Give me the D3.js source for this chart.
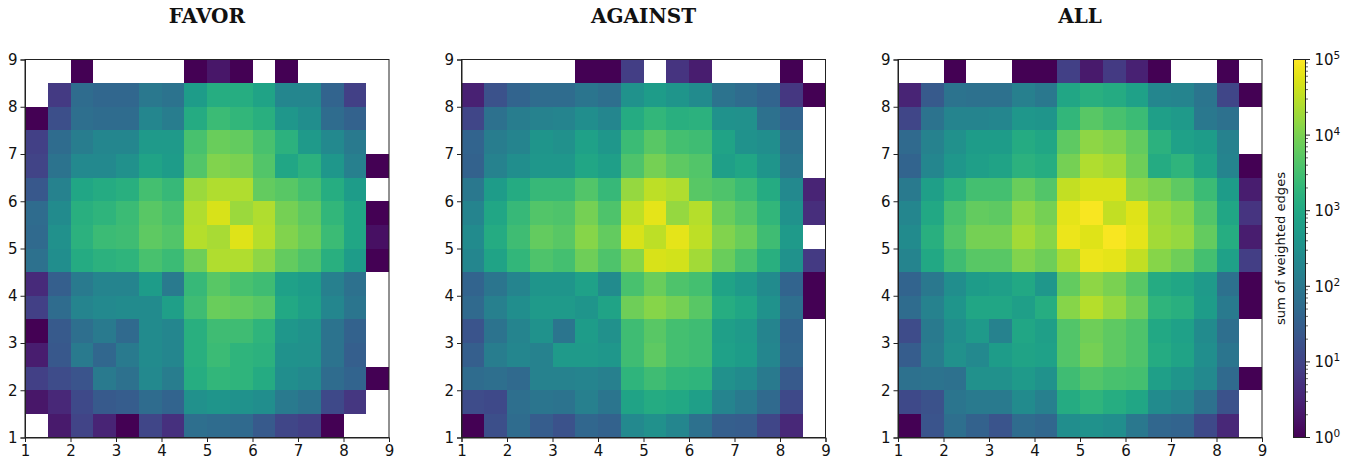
<!DOCTYPE html>
<html lang="en">
<head>
<meta charset="UTF-8">
<title>Sum of weighted edges: FAVOR, AGAINST, ALL</title>
<script src="https://d3js.org/d3.v7.min.js"></script>
<style>
    html, body { margin: 0; padding: 0; background: #fff; }
    svg { display: block; }
    text { font-family: "DejaVu Sans", sans-serif; fill: #111; }
    .title { font-family: "DejaVu Serif", serif; font-weight: bold; font-size: 20px; }
    .tick text { font-size: 15px; }
    .tick line, .domain { stroke: #222; stroke-width: 1px; }
</style>
</head>
<body>
<div id="viz"></div>
<script>
    const _ = null;

    // bin edges on both axes, half a unit wide
    const binStarts = [1, 1.5, 2, 2.5, 3, 3.5, 4, 4.5, 5, 5.5, 6, 6.5, 7, 7.5, 8, 8.5];
    const tickLabels = [1, 2, 3, 4, 5, 6, 7, 8, 9];
    const panelTitles = ["FAVOR", "AGAINST", "ALL"];
    const colorTicks = [0, 1, 2, 3, 4, 5];

    // log10 of the sum of weighted edges. First row is the top one (y 8.5-9)
    const favorRows = [
        [_, _, 0, _, _, _, _, 0, .3, 0, _, 0, _, _, _, _],
        [_, .85, 1.75, 1.65, 1.65, 2, 1.9, 2.75, 3.1, 3.1, 2.9, 2.3, 2.3, 1.6, .95, _],
        [0, 1.2, 1.8, 1.75, 1.75, 2.3, 2.1, 3.05, 3.4, 3.3, 3.15, 2.65, 2.45, 1.75, 1.55, _],
        [.95, 1.75, 2.1, 2.3, 2.3, 2.7, 2.7, 3.55, 3.85, 3.8, 3.55, 3.2, 2.7, 2.35, 2.05, _],
        [1, 1.9, 2.35, 2.35, 2.5, 2.9, 2.75, 3.65, 4.05, 4, 3.65, 2.95, 3.2, 2.65, 2.15, 0],
        [1.35, 2.2, 2.95, 3.05, 3.15, 3.5, 3.35, 4.25, 4.4, 4.4, 3.8, 3.7, 3.5, 3.1, 2.75, _],
        [1.75, 2.4, 3.15, 3.25, 3.4, 3.7, 3.55, 4.4, 4.7, 4.25, 4.4, 3.95, 3.75, 3.3, 2.95, 0],
        [1.7, 2.5, 3.2, 3.4, 3.45, 3.75, 3.65, 4.45, 4.35, 4.75, 4.45, 4.05, 3.85, 3.4, 2.95, .2],
        [1.85, 2.45, 3.05, 3.2, 3.25, 3.55, 3.4, 3.9, 4.4, 4.4, 4.15, 3.8, 3.6, 3.15, 2.75, 0],
        [.6, 1.5, 2.05, 2.25, 2.25, 2.75, 2.05, 3.35, 3.7, 3.55, 3.45, 2.85, 2.75, 2.15, 1.85, _],
        [.95, 1.75, 2.25, 2.35, 2.4, 2.4, 2.8, 3.45, 3.85, 3.8, 3.7, 3, 2.8, 2.3, 1.95, _],
        [0, 1.4, 1.8, 2.05, 1.7, 2.4, 2.3, 3.15, 3.45, 3.45, 3.25, 2.65, 2.55, 1.9, 1.55, _],
        [.4, 1.35, 2.05, 1.65, 2.05, 2.4, 2.3, 3.15, 3.4, 3.25, 3.2, 2.55, 2.5, 1.9, 1.5, _],
        [.95, 1.15, 1.3, 2.05, 1.85, 2.35, 2.1, 3.1, 3.3, 3.25, 3.05, 2.45, 2.35, 1.75, 1.6, 0],
        [.3, .55, 1.1, 1.4, 1.45, 1.75, 1.6, 2.5, 2.6, 2.55, 2.45, 2.05, 1.9, 1.1, .8, _],
        [_, .35, 1, .5, 0, 1.05, .7, 1.8, 1.75, 1.7, 1.4, 1.05, .95, 0, _, _]
    ];
    const againstRows = [
        [_, _, _, _, _, 0, 0, .9, _, .75, .4, _, _, _, 0, _],
        [.45, 1.25, 1.6, 1.75, 1.75, 1.95, 1.8, 2.55, 2.75, 2.6, 2.4, 1.9, 1.75, 1.6, .8, 0],
        [1.05, 1.85, 2.1, 2.2, 2.25, 2.45, 2.3, 3.05, 3.3, 3.15, 3.2, 2.55, 2.5, 1.85, 1.6, _],
        [1.6, 2.1, 2.25, 2.6, 2.5, 2.85, 2.65, 3.4, 3.7, 3.5, 3.45, 2.9, 2.55, 2.45, 1.85, _],
        [1.55, 2.2, 2.45, 2.65, 2.65, 2.95, 2.8, 3.6, 3.95, 3.75, 3.65, 2.8, 2.95, 2.6, 2, _],
        [2, 2.75, 3.05, 3.35, 3.35, 3.65, 3.35, 4.2, 4.5, 4.4, 3.7, 3.6, 3.4, 3.05, 2.35, .5],
        [2.25, 2.95, 3.35, 3.65, 3.6, 3.95, 3.6, 4.5, 4.8, 4.2, 4.45, 3.85, 3.65, 3.3, 2.55, .65],
        [2.4, 3.05, 3.45, 3.8, 3.7, 4.1, 3.8, 4.7, 4.5, 4.8, 4.5, 4.05, 3.85, 3.45, 2.7, _],
        [2.3, 2.9, 3.3, 3.6, 3.5, 3.9, 3.6, 4.1, 4.7, 4.65, 4.3, 3.85, 3.55, 3.15, 2.55, .85],
        [1.6, 1.95, 2.25, 2.6, 2.6, 2.85, 2.4, 3.55, 3.85, 3.6, 3.5, 2.9, 2.7, 2.4, 1.6, 0],
        [1.7, 2.15, 2.45, 2.7, 2.7, 2.6, 2.9, 3.9, 4.1, 3.95, 3.7, 3.1, 2.95, 2.55, 1.8, 0],
        [1.3, 1.9, 2.25, 2.55, 1.95, 2.75, 2.5, 3.45, 3.7, 3.5, 3.45, 2.8, 2.7, 2.25, 1.6, _],
        [1.5, 2.1, 2.3, 2.2, 2.7, 2.7, 2.65, 3.45, 3.75, 3.5, 3.45, 2.85, 2.75, 2.3, 1.65, _],
        [1.75, 1.8, 1.7, 2.2, 2.2, 2.25, 2.15, 3.25, 3.45, 3.3, 3.25, 2.5, 2.4, 2.05, 1.4, _],
        [1.15, 1.1, 1.8, 1.95, 1.9, 2.15, 1.95, 2.9, 3.05, 3, 2.8, 2.25, 2.05, 1.7, 1.1, _],
        [0, 1.2, 1.75, 1.45, 1.25, 1.65, 1.55, 2.35, 2.5, 2.3, 1.85, 1.5, 1.45, 1.05, .55, _]
    ];
    const allRows = [
        [_, _, 0, _, _, 0, 0, .95, .35, .85, .45, 0, _, _, 0, _],
        [.5, 1.4, 1.9, 1.85, 1.85, 2.15, 2, 2.95, 3.15, 3.05, 2.85, 2.3, 2.25, 1.95, 1.05, 0],
        [1.05, 1.9, 2.25, 2.25, 2.3, 2.65, 2.6, 3.3, 3.7, 3.55, 3.4, 2.8, 2.7, 2, 1.85, _],
        [1.7, 2.2, 2.5, 2.75, 2.75, 3.05, 2.95, 3.75, 4.15, 4.05, 3.8, 3.2, 2.85, 2.75, 2.2, _],
        [1.6, 2.3, 2.65, 2.8, 2.9, 3.2, 3.1, 3.95, 4.4, 4.3, 3.9, 3.05, 3.25, 2.9, 2.25, 0],
        [2.05, 2.8, 3.2, 3.5, 3.5, 3.85, 3.65, 4.55, 4.7, 4.7, 4.15, 4, 3.75, 3.4, 2.75, .4],
        [2.3, 3, 3.55, 3.8, 3.75, 4.15, 3.95, 4.8, 4.95, 4.55, 4.75, 4.25, 4.1, 3.65, 2.95, .75],
        [2.4, 3.15, 3.65, 3.95, 3.95, 4.3, 4.1, 4.85, 4.75, 4.95, 4.8, 4.3, 4.2, 3.8, 3.1, .4],
        [2.25, 3, 3.45, 3.7, 3.7, 4.05, 3.9, 4.35, 4.85, 4.8, 4.55, 4.1, 3.9, 3.5, 2.85, .9],
        [1.6, 2, 2.45, 2.75, 2.8, 3, 2.65, 3.8, 4.15, 4, 3.7, 3.05, 2.95, 2.7, 1.85, 0],
        [1.75, 2.2, 2.6, 2.95, 2.95, 2.8, 3.1, 4.1, 4.45, 4.2, 3.9, 3.25, 3.15, 2.75, 2.05, 0],
        [1.15, 2.05, 2.45, 2.7, 2.2, 2.95, 2.8, 3.65, 3.9, 3.75, 3.6, 3, 2.85, 2.4, 1.8, _],
        [1.45, 2.1, 2.5, 2.35, 2.75, 2.9, 2.85, 3.65, 3.95, 3.75, 3.6, 3.05, 2.9, 2.45, 1.95, _],
        [1.85, 1.9, 1.85, 2.5, 2.5, 2.7, 2.55, 3.45, 3.65, 3.55, 3.5, 2.8, 2.6, 2.35, 1.7, 0],
        [1.1, 1.25, 1.95, 2.05, 2.05, 2.4, 2.15, 3.05, 3.25, 3.1, 2.95, 2.4, 2.25, 1.85, 1.25, _],
        [0, 1.3, 1.8, 1.55, 1.3, 1.75, 1.65, 2.45, 2.55, 2.45, 2, 1.65, 1.6, 1.1, .55, _]
    ];

    const width = 1368, height = 462;
    const plotTop = 59.5, plotBottom = 437.5;
    const panelLefts = [25, 461.5, 898];
    const panelWidth = 364;
    const binSize = 0.5;

    const svg = d3.select("#viz").append("svg")
        .attr("width", width)
        .attr("height", height);

    const y = d3.scaleLinear().domain([1, 9]).range([plotBottom, plotTop]);
    const color = d3.scaleSequential(d3.interpolateViridis).domain([0, 5]);

    [favorRows, againstRows, allRows].forEach((rows, p) => {
        const left = panelLefts[p];
        const x = d3.scaleLinear().domain([1, 9]).range([left, left + panelWidth]);
        const g = svg.append("g");

        // rows are listed top down, binStarts bottom up
        const cells = rows.flatMap((row, r) => row.map((v, c) => ({
            x0: binStarts[c],
            y0: binStarts[binStarts.length - 1 - r],
            v: v
        }))).filter(d => d.v !== null);

        g.selectAll("rect")
            .data(cells)
            .enter().append("rect")
            .attr("x", d => x(d.x0))
            .attr("y", d => y(d.y0 + binSize))
            .attr("width", d => x(d.x0 + binSize) - x(d.x0))
            .attr("height", d => y(d.y0) - y(d.y0 + binSize))
            .attr("fill", d => color(d.v))
            .attr("shape-rendering", "crispEdges");

        g.append("g")
            .attr("transform", `translate(0,${plotBottom})`)
            .call(d3.axisBottom(x).tickValues(tickLabels).tickFormat(d3.format("d")).tickSize(4.5).tickPadding(3));
        g.append("g")
            .attr("transform", `translate(${left},0)`)
            .call(d3.axisLeft(y).tickValues(tickLabels).tickFormat(d3.format("d")).tickSize(4.5).tickPadding(3));

        g.append("rect")
            .attr("x", left)
            .attr("y", plotTop)
            .attr("width", panelWidth)
            .attr("height", plotBottom - plotTop)
            .attr("fill", "none")
            .attr("stroke", "#222")
            .attr("stroke-width", 1);

        g.append("text")
            .attr("class", "title")
            .attr("x", left + panelWidth / 2)
            .attr("y", 23)
            .attr("text-anchor", "middle")
            .text(panelTitles[p]);
    });

    // colour bar
    const barLeft = 1293.5, barWidth = 12;
    const barScale = d3.scaleLog().domain([1, 1e5]).range([plotBottom, plotTop]);
    const bar = svg.append("g");

    const gradient = svg.append("defs").append("linearGradient")
        .attr("id", "viridis")
        .attr("x1", 0).attr("x2", 0).attr("y1", 1).attr("y2", 0);
    gradient.selectAll("stop")
        .data(d3.range(0, 1.001, 0.02))
        .enter().append("stop")
        .attr("offset", d => d)
        .attr("stop-color", d => d3.interpolateViridis(d));

    bar.append("rect")
        .attr("x", barLeft)
        .attr("y", plotTop)
        .attr("width", barWidth)
        .attr("height", plotBottom - plotTop)
        .attr("fill", "url(#viridis)")
        .attr("stroke", "#222")
        .attr("stroke-width", 1);

    const minorTicks = d3.range(0, 5).flatMap(k => d3.range(2, 10).map(m => m * Math.pow(10, k)));
    bar.selectAll(".minor")
        .data(minorTicks)
        .enter().append("line")
        .attr("class", "minor")
        .attr("x1", barLeft + barWidth)
        .attr("x2", barLeft + barWidth + 2.5)
        .attr("y1", d => barScale(d))
        .attr("y2", d => barScale(d))
        .attr("stroke", "#222")
        .attr("stroke-width", 0.7);
    bar.selectAll(".major")
        .data(colorTicks)
        .enter().append("line")
        .attr("class", "major")
        .attr("x1", barLeft + barWidth)
        .attr("x2", barLeft + barWidth + 4.5)
        .attr("y1", d => barScale(Math.pow(10, d)))
        .attr("y2", d => barScale(Math.pow(10, d)))
        .attr("stroke", "#222")
        .attr("stroke-width", 1);

    const barLabels = bar.selectAll(".barlabel")
        .data(colorTicks)
        .enter().append("text")
        .attr("class", "barlabel")
        .attr("x", barLeft + barWidth + 9)
        .attr("y", d => barScale(Math.pow(10, d)) + 5.5)
        .attr("font-size", "15px");
    barLabels.append("tspan").text("10");
    barLabels.append("tspan")
        .attr("dy", -6)
        .attr("font-size", "10.5px")
        .text(d => d);

    svg.append("text")
        .attr("transform", `translate(1285,${(plotTop + plotBottom) / 2}) rotate(-90)`)
        .attr("text-anchor", "middle")
        .attr("font-size", "13.1px")
        .text("sum of weighted edges");
</script>
</body>
</html>
